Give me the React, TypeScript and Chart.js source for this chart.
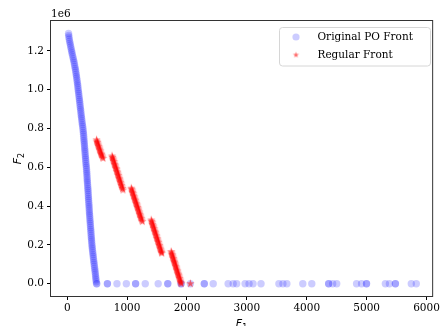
import React, { useEffect, useRef } from 'react';
import { Chart, registerables } from 'chart.js';
Chart.register(...registerables);

// Original PO front: curved part (F1, F2)
const curveF1 = [22, 25, 28, 34, 40, 46, 53, 59, 66, 73, 79, 86, 94, 101, 108, 115, 121, 127, 133, 139, 144, 149, 154, 158, 163, 167, 172, 176, 179, 183, 187, 191, 195, 199, 203, 207, 211, 214, 218, 222, 226, 229, 233, 237, 241, 245, 249, 253, 258, 262, 266, 269, 272, 275, 278, 280, 283, 286, 289, 291, 294, 296, 299, 302, 305, 307, 310, 313, 316, 319, 322, 324, 327, 329, 331, 333, 335, 337, 340, 342, 345, 347, 349, 351, 353, 355, 357, 359, 362, 364, 366, 368, 370, 372, 375, 377, 380, 382, 385, 387, 390, 392, 395, 397, 400, 402, 405, 407, 410, 413, 416, 419, 423, 427, 431, 434, 438, 442, 446, 450, 454, 458, 462, 466, 470, 473, 477, 480, 484, 489, 495];
const curveF2 = [1290000, 1280000, 1270000, 1260000, 1250000, 1240000, 1230000, 1220000, 1210000, 1200000, 1190000, 1180000, 1170000, 1160000, 1150000, 1140000, 1130000, 1120000, 1110000, 1100000, 1090000, 1080000, 1070000, 1060000, 1050000, 1040000, 1030000, 1020000, 1010000, 1000000, 990000, 980000, 970000, 960000, 950000, 940000, 930000, 920000, 910000, 900000, 890000, 880000, 870000, 860000, 850000, 840000, 830000, 820000, 810000, 800000, 790000, 780000, 770000, 760000, 750000, 740000, 730000, 720000, 710000, 700000, 690000, 680000, 670000, 660000, 650000, 640000, 630000, 620000, 610000, 600000, 590000, 580000, 570000, 560000, 550000, 540000, 530000, 520000, 510000, 500000, 490000, 480000, 470000, 460000, 450000, 440000, 430000, 420000, 410000, 400000, 390000, 380000, 370000, 360000, 350000, 340000, 330000, 320000, 310000, 300000, 290000, 280000, 270000, 260000, 250000, 240000, 230000, 220000, 210000, 200000, 190000, 180000, 170000, 160000, 150000, 140000, 130000, 120000, 110000, 100000, 90000, 80000, 70000, 60000, 50000, 40000, 30000, 20000, 10000, 0, 0];
// Original PO front: flat part at F2 = 0
const flatF1 = [671, 671, 831, 987, 1142, 1142, 1303, 1519, 1679, 1679, 1901, 1901, 2056, 2289, 2289, 2438, 2687, 2771, 2829, 2970, 3036, 3103, 3236, 3535, 3602, 3668, 3934, 4084, 4366, 4366, 4433, 4500, 4832, 4915, 4998, 4998, 5313, 5380, 5480, 5480, 5746, 5829];

// Regular front
const regF1 = [
  489, 496, 503, 510, 518, 525, 533, 540, 548, 555, 563, 570, 578, 588, 598,
  748, 755, 763, 770, 778, 785, 793, 800, 808, 815, 823, 830, 838, 845, 853, 860, 868, 875, 883, 890, 898, 905, 913, 922, 931,
  1070, 1077, 1085, 1092, 1100, 1107, 1115, 1122, 1130, 1137, 1145, 1152, 1160, 1167, 1175, 1182, 1190, 1197, 1205, 1212, 1220, 1227, 1235, 1244, 1253,
  1403, 1410, 1418, 1425, 1433, 1440, 1448, 1455, 1463, 1470, 1478, 1485, 1493, 1500, 1508, 1515, 1523, 1530, 1538, 1545, 1553, 1560, 1568, 1573, 1579,
  1736, 1743, 1750, 1757, 1764, 1771, 1778, 1785, 1792, 1799, 1806, 1813, 1820, 1827, 1834, 1841, 1848, 1855, 1862, 1869, 1876, 1883, 1890, 1896, 1903,
  2056,
];
const regF2 = [
  741000, 734000, 728000, 721000, 714000, 707000, 700000, 693000, 686000, 679000, 672000, 666000, 660000, 653000, 646000,
  658000, 651000, 644000, 637000, 630000, 622000, 615000, 608000, 601000, 594000, 587000, 579000, 572000, 565000, 558000, 550000, 543000, 536000, 529000, 521000, 514000, 506000, 499000, 491000, 483000,
  492000, 485000, 478000, 471000, 464000, 456000, 449000, 442000, 435000, 428000, 421000, 414000, 407000, 400000, 393000, 386000, 379000, 371000, 364000, 357000, 350000, 343000, 336000, 328000, 320000,
  328000, 321000, 314000, 306000, 299000, 292000, 285000, 277000, 270000, 263000, 256000, 248000, 241000, 233000, 226000, 219000, 212000, 204000, 197000, 190000, 183000, 175000, 168000, 162000, 157000,
  165000, 158000, 151000, 144000, 137000, 130000, 123000, 116000, 110000, 103000, 96000, 89000, 82000, 75000, 68000, 61000, 54000, 47000, 41000, 34000, 27000, 20000, 13000, 6000, 0,
  0,
];

const xTicks = [0, 1000, 2000, 3000, 4000, 5000, 6000];
const yTicks = [0, 200000, 400000, 600000, 800000, 1000000, 1200000];
const legendLabels = ['Original PO Front', 'Regular Front'];

const BLUE = 'rgba(0,0,255,0.2)';
const RED = 'rgba(255,0,0,0.6)';
const SERIF = '"DejaVu Serif", serif';

function makeStar(r: number, color: string) {
  const size = Math.ceil(r * 2 + 2);
  const c = document.createElement('canvas');
  c.width = size;
  c.height = size;
  const ctx = c.getContext('2d')!;
  const cx = size / 2, cy = size / 2;
  const ri = r * 0.381966;
  ctx.beginPath();
  for (let i = 0; i < 10; i++) {
    const rr = i % 2 === 0 ? r : ri;
    const a = -Math.PI / 2 + (i * Math.PI) / 5;
    const x = cx + rr * Math.cos(a);
    const y = cy + rr * Math.sin(a);
    if (i === 0) ctx.moveTo(x, y); else ctx.lineTo(x, y);
  }
  ctx.closePath();
  ctx.fillStyle = color;
  ctx.fill();
  return c;
}

export default function App() {
  const ref = useRef<HTMLCanvasElement>(null);
  useEffect(() => {
    const star = makeStar(4.4, RED);
    const legendStar = makeStar(3.2, RED);
    const blueData = [
      ...curveF1.map((x, i) => ({ x, y: curveF2[i] })),
      ...flatF1.map((x) => ({ x, y: 0 })),
    ];
    const redData = regF1.map((x, i) => ({ x, y: regF2[i] }));

    const overlay = {
      id: 'overlay',
      afterDraw(chart: any) {
        const ctx = chart.ctx;
        const a = chart.chartArea;
        ctx.save();
        ctx.strokeStyle = '#333';
        ctx.lineWidth = 1;
        ctx.strokeRect(a.left - 0.5, a.top - 0.5, a.right - a.left + 1, a.bottom - a.top + 1);
        ctx.fillStyle = '#000';
        ctx.font = `10.5px ${SERIF}`;
        ctx.textAlign = 'left';
        ctx.textBaseline = 'alphabetic';
        ctx.fillText('1e6', a.left, a.top - 4);
        const drawSub = (main: string, sub: string, x: number, y: number) => {
          ctx.font = 'italic 11px "DejaVu Sans"';
          const w1 = ctx.measureText(main).width;
          ctx.font = '8px "DejaVu Sans"';
          const w2 = ctx.measureText(sub).width;
          const start = x - (w1 + w2) / 2;
          ctx.font = 'italic 11px "DejaVu Sans"';
          ctx.textAlign = 'left';
          ctx.fillText(main, start, y);
          ctx.font = '8px "DejaVu Sans"';
          ctx.fillText(sub, start + w1, y + 2.5);
        };
        drawSub('F', '1', (a.left + a.right) / 2, 327);
        ctx.save();
        ctx.translate(21, (a.top + a.bottom) / 2);
        ctx.rotate(-Math.PI / 2);
        drawSub('F', '2', 0, 0);
        ctx.restore();
        const lx = 279.5, ly = 27.5, lw = 151, lh = 38.5;
        ctx.beginPath();
        ctx.roundRect(lx, ly, lw, lh, 3);
        ctx.fillStyle = 'rgba(255,255,255,0.8)';
        ctx.fill();
        ctx.strokeStyle = '#d6d6d6';
        ctx.stroke();
        ctx.beginPath();
        ctx.arc(296, 37, 3.6, 0, Math.PI * 2);
        ctx.fillStyle = BLUE;
        ctx.fill();
        ctx.drawImage(legendStar, 296 - legendStar.width / 2, 55 - legendStar.height / 2);
        ctx.fillStyle = '#000';
        ctx.font = `10.5px ${SERIF}`;
        ctx.textBaseline = 'middle';
        ctx.textAlign = 'left';
        ctx.fillText(legendLabels[0], 317.5, 37);
        ctx.fillText(legendLabels[1], 317.5, 55);
        ctx.restore();
      },
    };

    const chart = new Chart(ref.current!, {
      type: 'scatter',
      data: {
        datasets: [
          {
            label: legendLabels[1],
            data: redData,
            pointStyle: star as any,
            pointRadius: 4.4,
            backgroundColor: RED,
            borderWidth: 0,
          },
          {
            label: legendLabels[0],
            data: blueData,
            pointStyle: 'circle',
            pointRadius: 3.7,
            backgroundColor: BLUE,
            borderColor: 'rgba(0,0,0,0)',
            borderWidth: 0,
          },
        ],
      },
      options: {
        responsive: false,
        animation: false,
        devicePixelRatio: 1,
        layout: { padding: { left: 0, right: 8, top: 21, bottom: 0 } },
        plugins: { legend: { display: false }, tooltip: { enabled: false } },
        scales: {
          x: {
            type: 'linear',
            min: -271,
            max: 6094,
            afterFit: (s: any) => { s.height = 30; },
            afterBuildTicks: (s: any) => { s.ticks = xTicks.map((v) => ({ value: v })); },
            grid: { drawOnChartArea: false, drawTicks: true, tickLength: 4, tickColor: '#000' },
            border: { display: false },
            ticks: {
              padding: 2,
              color: '#000',
              font: { family: SERIF, size: 10.5 },
              callback: (v: any) => String(v),
              maxRotation: 0,
            },
          },
          y: {
            type: 'linear',
            min: -63400,
            max: 1354000,
            afterFit: (s: any) => { s.width = 51; },
            afterBuildTicks: (s: any) => { s.ticks = yTicks.map((v) => ({ value: v })); },
            grid: { drawOnChartArea: false, drawTicks: true, tickLength: 4, tickColor: '#000' },
            border: { display: false },
            ticks: {
              padding: 3,
              color: '#000',
              font: { family: SERIF, size: 10.5 },
              callback: (v: any) => (Number(v) / 1e6).toFixed(1),
            },
          },
        },
      },
      plugins: [overlay],
    });
    return () => chart.destroy();
  }, []);
  return (
    <div style={{ position: 'absolute', left: 0, top: 0, width: 442, height: 326, background: '#fff' }}>
      <canvas ref={ref} width={442} height={326} style={{ width: 442, height: 326 }} />
    </div>
  );
}
